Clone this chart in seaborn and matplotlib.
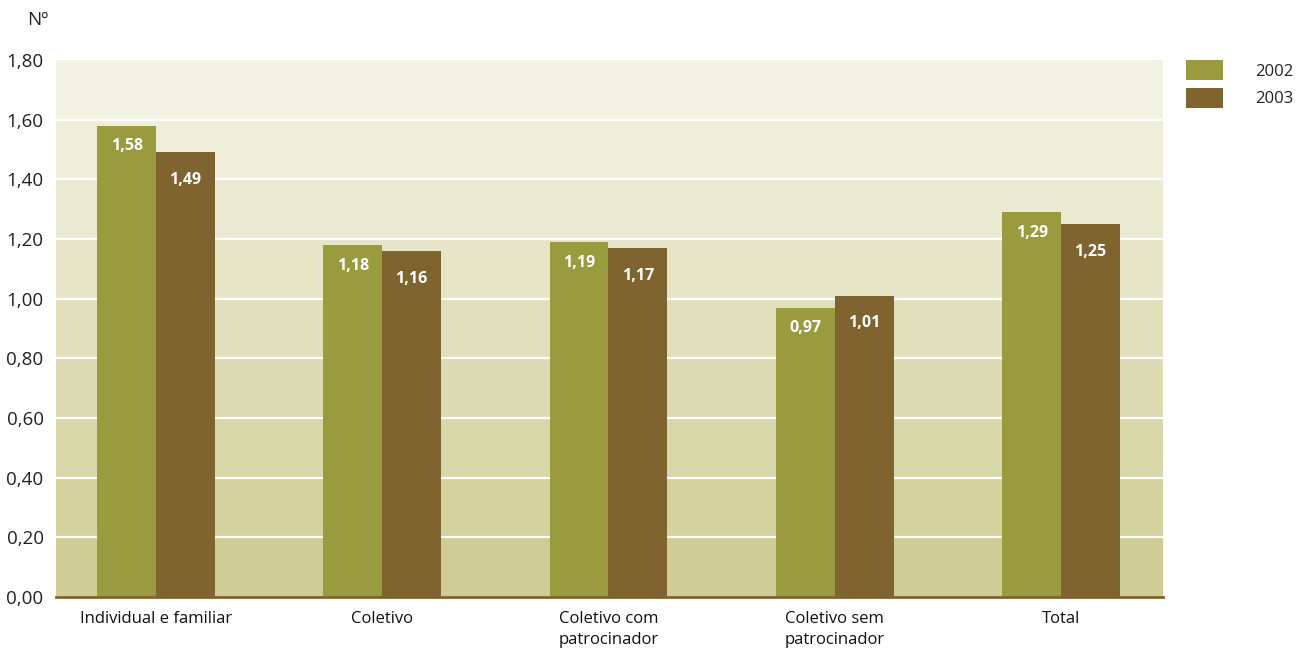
import matplotlib
matplotlib.use("Agg")
import matplotlib.pyplot as plt
import numpy as np
import pandas as pd
import seaborn as sns
from matplotlib.colors import to_rgb
from matplotlib.patches import Patch

categories = ["Individual e familiar", "Coletivo", "Coletivo com\npatrocinador",
              "Coletivo sem\npatrocinador", "Total"]
years = ["2002", "2003"]
values_2002 = [1.58, 1.18, 1.19, 0.97, 1.29]
values_2003 = [1.49, 1.16, 1.17, 1.01, 1.25]
yticks = [0.0, 0.2, 0.4, 0.6, 0.8, 1.0, 1.2, 1.4, 1.6, 1.8]

green = "#9a9a3e"
brown = "#7f6430"

df = pd.DataFrame({
    "categoria": categories * 2,
    "ano": [years[0]] * 5 + [years[1]] * 5,
    "valor": values_2002 + values_2003,
})

sns.set_theme(style="white")
plt.rcParams["font.family"] = ["Open Sans", "DejaVu Sans"]

fig = plt.figure(figsize=(12.96, 6.56), dpi=100)
ax = fig.add_axes([56 / 1296, 1 - 597 / 656, (1163 - 56) / 1296, (597 - 60) / 656])

# banded background, darkening toward the baseline
top_c = np.array(to_rgb("#f3f3e5"))
bot_c = np.array(to_rgb("#cfcd95"))
n_bands = len(yticks) - 1
for i in range(n_bands):
    t = i / (n_bands - 1)
    c = bot_c * (1 - t) + top_c * t
    ax.axhspan(yticks[i], yticks[i + 1], color=c, lw=0, zorder=0)
for y in yticks[1:-1]:
    ax.axhline(y, color="white", lw=1.6, zorder=0.5)

sns.barplot(data=df, x="categoria", y="valor", hue="ano", order=categories,
            hue_order=years, palette=[green, brown], width=0.52, gap=0,
            saturation=1, linewidth=0, ax=ax, legend=False, zorder=2)

offsets = {0: -15, 1: -20}
for ci, cont in enumerate(ax.containers):
    for bar in cont:
        h = bar.get_height()
        ax.annotate(f"{h:.2f}".replace(".", ","),
                    (bar.get_x() + bar.get_width() / 2, h),
                    xytext=(0, offsets[ci]), textcoords="offset points",
                    ha="center", va="center", color="white",
                    fontsize=11.5, fontweight="bold", zorder=3)

ax.set_xlim(-0.442, 4.451)
ax.set_ylim(0, 1.8)
ax.set_yticks(yticks)
ax.set_yticklabels([f"{v:.2f}".replace(".", ",") for v in yticks])
ax.tick_params(axis="y", length=0, pad=9, labelsize=13.5, labelcolor="#222222")
ax.tick_params(axis="x", length=0, pad=10, labelsize=12, labelcolor="#111111")
for lab in ax.get_xticklabels():
    lab.set_va("top")
    lab.set_linespacing(1.45)
ax.set_xlabel("")
ax.set_ylabel("")
for s in ["top", "right", "left"]:
    ax.spines[s].set_visible(False)
ax.spines["bottom"].set_color(brown)
ax.spines["bottom"].set_linewidth(2)
ax.spines["bottom"].set_zorder(4)

fig.text(27 / 1296, 1 - 20 / 656, "Nº", fontsize=13.5, color="#222222",
         ha="left", va="center")

handles = [Patch(facecolor=green, edgecolor="none"),
           Patch(facecolor=brown, edgecolor="none")]
fig.legend(handles, years, loc="upper right",
           bbox_to_anchor=(1293 / 1296, 1 - 60 / 656), frameon=False,
           fontsize=12, handlelength=2.22, handleheight=1.47,
           handletextpad=1.9, labelspacing=0.47, borderpad=0,
           borderaxespad=0, labelcolor="#222222")

fig.savefig("out.png", dpi=100)
